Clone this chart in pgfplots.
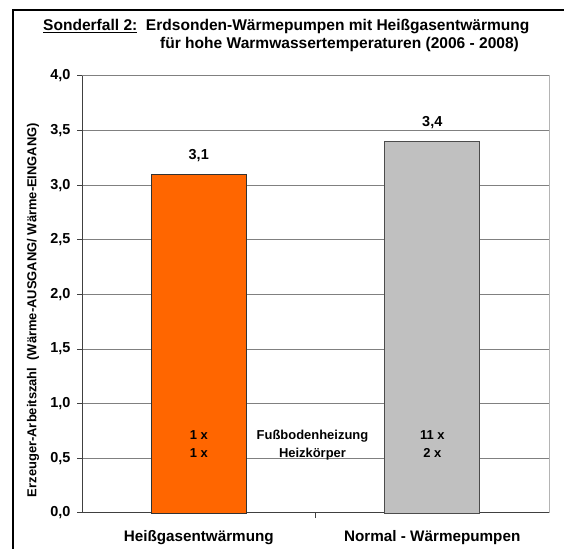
\documentclass[border=0pt]{standalone}
\usepackage{pgfplots}
\pgfplotsset{compat=1.18}
\usepackage{fontspec}
\setmainfont{Liberation Sans}
\definecolor{barorange}{HTML}{FF6600}
\definecolor{bargray}{HTML}{C0C0C0}
\definecolor{gridgray}{HTML}{808080}
\definecolor{boxgray}{HTML}{B4B4B4}
\begin{document}
\begin{tikzpicture}[x=1bp,y=1bp]
\useasboundingbox (0,0) rectangle (564,549);
\fill[black] (12.2,0) rectangle (13.8,540);
\fill[black] (12.2,538.4) rectangle (564,540);
\node[anchor=base west, inner sep=0pt, font=\fontsize{15.6}{18}\selectfont\bfseries] at (43,518) {\underline{Sonderfall 2:}\ \ Erdsonden-Wärmepumpen mit Heißgasentwärmung};
\node[anchor=base west, inner sep=0pt, font=\fontsize{15.6}{18}\selectfont\bfseries] at (160,500) {für hohe Warmwassertemperaturen (2006 - 2008)};
\draw[boxgray, line width=1bp] (82,36) rectangle (549,473);
\node[rotate=90, font=\fontsize{13}{15}\selectfont\bfseries] at (33,239) {Erzeuger-Arbeitszahl\ \ (Wärme-AUSGANG/ Wärme-EINGANG)};
\begin{axis}[
  at={(82bp,36bp)}, anchor=south west,
  scale only axis, width=467bp, height=437bp,
  xmin=-0.5, xmax=1.5, ymin=0, ymax=4,
  ytick={0,0.5,...,4},
  xtick={0.5},
  xticklabels={},
  axis x line*=bottom, axis y line*=left,
  axis line style={black!75, line width=1bp},
  tick align=outside, major tick length=5bp,
  tick style={black!75, line width=1bp},
  ymajorgrids, grid style={gridgray, line width=1bp},
  /pgf/number format/.cd, use comma, fixed, fixed zerofill, precision=1, assume math mode=true,
  /pgfplots/.cd,
  yticklabel style={font=\fontsize{14.5}{16}\selectfont\bfseries, xshift=-3bp},
  ybar, bar width=95bp,
  nodes near coords,
  every node near coord/.append style={font=\fontsize{14.5}{16}\selectfont\bfseries, anchor=base, yshift=15bp, black},
  clip=false,
]
\addplot[bar shift=0pt, fill=barorange, draw=black!80, line width=0.8bp] coordinates {(0,3.1)};
\addplot[bar shift=0pt, fill=bargray, draw=black!70, line width=0.8bp] coordinates {(1,3.4)};
\node[anchor=base, font=\fontsize{15.3}{18}\selectfont\bfseries] at ([yshift=-29bp]axis cs:0,0) {Heißgasentwärmung};
\node[anchor=base, font=\fontsize{15.3}{18}\selectfont\bfseries] at ([yshift=-29bp]axis cs:1,0) {Normal - Wärmepumpen};
\node[anchor=base, font=\fontsize{13}{15}\selectfont\bfseries] at ([yshift=73bp]axis cs:0,0) {1 x};
\node[anchor=base, font=\fontsize{13}{15}\selectfont\bfseries] at ([yshift=55.3bp]axis cs:0,0) {1 x};
\node[anchor=base, font=\fontsize{13}{15}\selectfont\bfseries] at ([yshift=73bp]axis cs:1,0) {11 x};
\node[anchor=base, font=\fontsize{13}{15}\selectfont\bfseries] at ([yshift=55.3bp]axis cs:1,0) {2 x};
\node[anchor=base, font=\fontsize{13}{15}\selectfont\bfseries] at ([yshift=73bp]axis cs:0.487,0) {Fußbodenheizung};
\node[anchor=base, font=\fontsize{13}{15}\selectfont\bfseries] at ([yshift=55.3bp]axis cs:0.487,0) {Heizkörper};
\end{axis}
\end{tikzpicture}
\end{document}
